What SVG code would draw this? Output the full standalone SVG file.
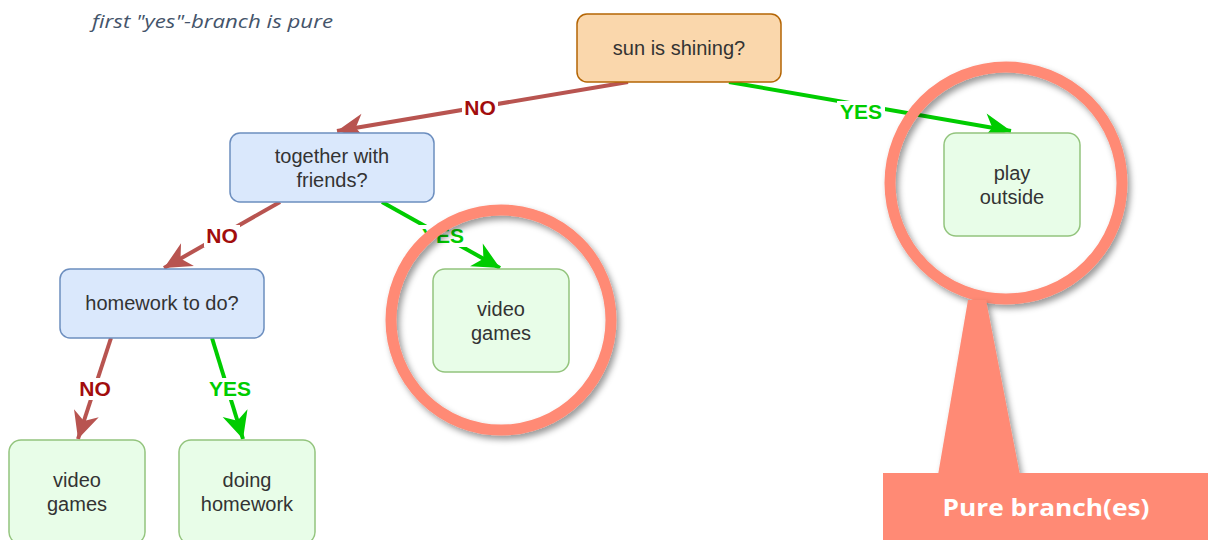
<svg xmlns="http://www.w3.org/2000/svg" width="1208" height="540" viewBox="0 0 1208 540">
  <style>
    .node rect { stroke-width: 1.5; }
    .q rect { fill: #dae8fc; stroke: #6c8ebf; }
    .root rect { fill: #fad7ac; stroke: #b46504; }
    .leaf rect { fill: #e8fde8; stroke: #93c47d; }
    .node text { font-family: "Liberation Sans", Arial, sans-serif; font-size: 20px; fill: #333333; text-anchor: middle; }
    .edge { fill: none; stroke-width: 4; }
    .no { stroke: #b85450; }
    .yes { stroke: #00cc00; }
    .lbl { font-family: "Liberation Sans", Arial, sans-serif; font-size: 21px; font-weight: bold; text-anchor: middle; }
    .lbl-no { fill: #a20d0d; }
    .lbl-yes { fill: #00cc00; }
    .lblbg { fill: #ffffff; }
    .mark { fill: #ff8a75; }
    .ring { fill: none; stroke: #ff8a75; stroke-width: 11; }
  </style>
  <defs>
    <marker id="arrNo" markerUnits="userSpaceOnUse" markerWidth="32" markerHeight="32" viewBox="-30 -15 32 30" refX="0" refY="0" orient="auto">
      <path d="M0,0 L-27,-13 L-19,0 L-27,13 Z" fill="#b85450"/>
    </marker>
    <marker id="arrYes" markerUnits="userSpaceOnUse" markerWidth="32" markerHeight="32" viewBox="-30 -15 32 30" refX="0" refY="0" orient="auto">
      <path d="M0,0 L-27,-13 L-19,0 L-27,13 Z" fill="#00cc00"/>
    </marker>
    <filter id="shade" x="-20%" y="-20%" width="140%" height="140%">
      <feDropShadow dx="3" dy="4" stdDeviation="3" flood-color="#000000" flood-opacity="0.4"/>
    </filter>
  </defs>

  <rect width="1208" height="540" fill="#ffffff"/>

  <!-- caption -->
  <text x="92" y="28" font-family="'Open Sans', 'Liberation Sans', sans-serif" font-size="19" font-style="italic" fill="#44546a" textLength="241" lengthAdjust="spacingAndGlyphs">first "yes"-branch is pure</text>

  <!-- connectors -->
  <g id="edges">
    <line class="edge no" x1="628" y1="82" x2="337" y2="131" marker-end="url(#arrNo)"/>
    <line class="edge yes" x1="729" y1="82" x2="1011" y2="131" marker-end="url(#arrYes)"/>
    <line class="edge no" x1="280" y1="202" x2="164" y2="268" marker-end="url(#arrNo)"/>
    <line class="edge yes" x1="382" y1="202" x2="500" y2="268" marker-end="url(#arrYes)"/>
    <line class="edge no" x1="111" y1="338" x2="78" y2="439" marker-end="url(#arrNo)"/>
    <line class="edge yes" x1="212" y1="338" x2="243" y2="439" marker-end="url(#arrYes)"/>

    <rect class="lblbg" x="462" y="97" width="36" height="22"/>
    <text class="lbl lbl-no" x="480" y="115">NO</text>
    <rect class="lblbg" x="837" y="101" width="48" height="22"/>
    <text class="lbl lbl-yes" x="861" y="119">YES</text>
    <rect class="lblbg" x="204" y="225" width="36" height="22"/>
    <text class="lbl lbl-no" x="222" y="243">NO</text>
    <rect class="lblbg" x="419" y="225" width="48" height="22"/>
    <text class="lbl lbl-yes" x="443" y="243">YES</text>
    <rect class="lblbg" x="77" y="378" width="36" height="22"/>
    <text class="lbl lbl-no" x="95" y="396">NO</text>
    <rect class="lblbg" x="206" y="378" width="48" height="22"/>
    <text class="lbl lbl-yes" x="230" y="396">YES</text>
  </g>

  <!-- nodes -->
  <g id="sun" class="node root">
    <rect x="577" y="14" width="204" height="68" rx="10"/>
    <text x="679" y="55">sun is shining?</text>
  </g>
  <g id="friends" class="node q">
    <rect x="230" y="133" width="204" height="69" rx="10"/>
    <text x="332" y="163">together with</text>
    <text x="332" y="187">friends?</text>
  </g>
  <g id="outside" class="node leaf">
    <rect x="944" y="133" width="136" height="103" rx="12"/>
    <text x="1012" y="180">play</text>
    <text x="1012" y="204">outside</text>
  </g>
  <g id="homework" class="node q">
    <rect x="60" y="269" width="204" height="69" rx="10"/>
    <text x="162" y="310">homework to do?</text>
  </g>
  <g id="games-mid" class="node leaf">
    <rect x="433" y="269" width="136" height="103" rx="12"/>
    <text x="501" y="316">video</text>
    <text x="501" y="340">games</text>
  </g>
  <g id="games-low" class="node leaf">
    <rect x="9" y="440" width="136" height="104" rx="12"/>
    <text x="77" y="487">video</text>
    <text x="77" y="511">games</text>
  </g>
  <g id="doing" class="node leaf">
    <rect x="179" y="440" width="136" height="104" rx="12"/>
    <text x="247" y="487">doing</text>
    <text x="247" y="511">homework</text>
  </g>

  <!-- highlight rings and callout -->
  <g id="highlights" filter="url(#shade)">
    <circle class="ring" cx="501" cy="320" r="110"/>
    <circle class="ring" cx="1006" cy="183" r="116"/>
  </g>
  <g id="callout">
    <path class="mark" d="M968,300 L986,300 L1020,475 L938,475 Z" filter="url(#shade)"/>
    <rect class="mark" x="883" y="473" width="325" height="67"/>
    <text x="1046" y="516" font-family="'Open Sans', 'Liberation Sans', sans-serif" font-size="24" font-weight="bold" fill="#ffffff" text-anchor="middle" textLength="207" lengthAdjust="spacingAndGlyphs">Pure branch(es)</text>
  </g>
</svg>
